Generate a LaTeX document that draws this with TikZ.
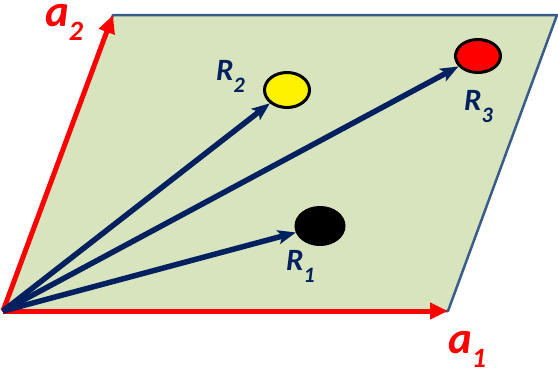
\documentclass[tikz,border=0pt]{standalone}
\usepackage{fontspec}
\setsansfont{Carlito}
\usepackage{tikz}
\usetikzlibrary{arrows.meta,shapes.geometric}
\definecolor{plane}{RGB}{215,228,189}
\definecolor{edge}{RGB}{56,93,138}
\definecolor{navy}{RGB}{0,32,96}
\definecolor{vred}{RGB}{255,0,0}
\newcommand{\veclab}[1]{a\raisebox{-14pt}{\fontsize{28}{28}\selectfont #1}}
\newcommand{\poslab}[1]{R\raisebox{-12pt}{\fontsize{22}{22}\selectfont #1}}
\tikzset{
  cell/.style={draw=edge, line width=2.5pt, fill=plane, line join=round},
  basarr/.style={-{Triangle[length=18pt,width=16pt]}, vred, line width=5pt},
  posarr/.style={-{Stealth[length=18pt,width=14pt,inset=4pt]}, navy, line width=5.5pt},
  atom/.style={ellipse, draw=black, line width=3pt, inner sep=0pt},
  blab/.style={font=\sffamily\bfseries\itshape\fontsize{45}{45}\selectfont,
               text=vred, inner sep=0pt, anchor=base west},
  rlab/.style={font=\sffamily\bfseries\itshape\fontsize{31}{31}\selectfont,
               text=navy, inner sep=0pt, anchor=base west},
}
\begin{document}
\begin{tikzpicture}[x=1pt, y=-1pt]
  \useasboundingbox (0,0) rectangle (558,375);
  % unit cell
  \coordinate (O)  at (3,311);
  \coordinate (A1) at (448,311);
  \coordinate (A2) at (113,15);
  \coordinate (T)  at (557,15);
  \draw[cell] (O) -- (A1) -- (T) -- (A2) -- cycle;

  % atoms
  \node[atom, fill=black,  minimum width=48pt, minimum height=37pt] (r1) at (320,226) {};
  \node[atom, fill=yellow, minimum width=45pt, minimum height=35pt] (r2) at (287,90) {};
  \node[atom, fill=red,    minimum width=45pt, minimum height=33pt] (r3) at (478,56) {};

  % lattice vectors
  \draw[basarr] (O) -- (A1);
  \draw[basarr] (O) -- (A2);

  % position vectors
  \draw[posarr] (O) -- (r1);
  \draw[posarr] (O) -- (r2);
  \draw[posarr] (O) -- (r3);

  \node[blab] (la1) at (448,353) {\veclab{1}};
  \node[blab] (la2) at (45,26)   {\veclab{2}};
  \node[rlab] (lr1) at (286,270) {\poslab{1}};
  \node[rlab] (lr2) at (216,80)  {\poslab{2}};
  \node[rlab] (lr3) at (464,110) {\poslab{3}};
\end{tikzpicture}
\end{document}
